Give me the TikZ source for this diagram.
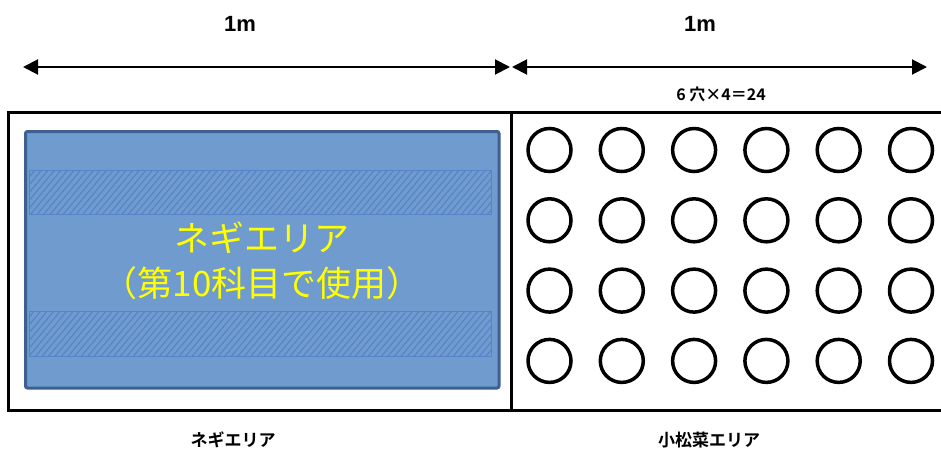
\documentclass[tikz,border=0pt]{standalone}
\usepackage{fontspec}
\setmainfont{Liberation Sans}
\newfontfamily\jpfont{Noto Sans CJK JP}[BoldFont={Noto Sans CJK JP Bold}]
\usetikzlibrary{arrows.meta,patterns.meta}
\definecolor{negiFill}{RGB}{112,155,206}
\definecolor{negiEdge}{RGB}{62,96,144}
\definecolor{negiHatch}{RGB}{86,132,200}
\definecolor{negiText}{RGB}{255,255,0}

\begin{document}
\begin{tikzpicture}[x=1pt, y=-1pt,
  dimarrow/.style={{Triangle[length=15pt,width=15pt]}-{Triangle[length=15pt,width=15pt]}, line width=2pt},
  hole/.style={circle, draw, line width=3.5pt, minimum size=43pt, inner sep=0pt},
  stripe/.style={pattern={Lines[angle=50,distance=5pt,line width=1.2pt]}, pattern color=negiHatch, draw=negiHatch, line width=0.8pt},
  dimlabel/.style={font=\bfseries\fontsize{22}{26}\selectfont},
  arealabel/.style={font=\jpfont\bfseries\fontsize{17}{20}\selectfont},
]
\useasboundingbox (0,0) rectangle (941,453);

% ===== DIMENSIONS =====
\coordinate (negiLeft) at (23,67);
\coordinate (mid) at (510,67);
\coordinate (midR) at (512,67);
\coordinate (komaRight) at (927,67);
\draw[dimarrow] (negiLeft) -- (mid);
\draw[dimarrow] (midR) -- (komaRight);
\node[dimlabel] (negiWidth) at (240,24) {1m};
\node[dimlabel] (komaWidth) at (700,24) {1m};
\node[arealabel, font=\jpfont\bfseries\fontsize{16}{18}\selectfont] (holeCount) at (721,94) {6 穴×4＝24};

% ===== FRAME =====
\draw[line width=3pt] (8,112) rectangle (944,410);
\draw[line width=3pt] (511,112) -- (511,410);

% ===== LEFT: negi area =====
\draw[fill=negiFill, draw=negiEdge, line width=3pt, rounded corners=2pt] (25.5,131.5) rectangle (499,388);
\draw[stripe] (29,170) rectangle (491,214);
\draw[stripe] (29,311) rectangle (491,356);
\node[font=\jpfont\fontsize{35}{45}\selectfont, text=negiText, align=center] (negiInfo) at (262,261) {ネギエリア\\（第10科目で使用）};

% ===== RIGHT: komatsuna holes =====
\foreach \c in {0,...,5}{
  \foreach \r in {0,...,3}{
    \node[hole] (hole-\c-\r) at (549.5+72.3*\c, 150+70.3*\r) {};
  }
}

% Area names
\node[arealabel] (negiName) at (233,440) {ネギエリア};
\node[arealabel] (komaName) at (709,440) {小松菜エリア};

\end{tikzpicture}
\end{document}
